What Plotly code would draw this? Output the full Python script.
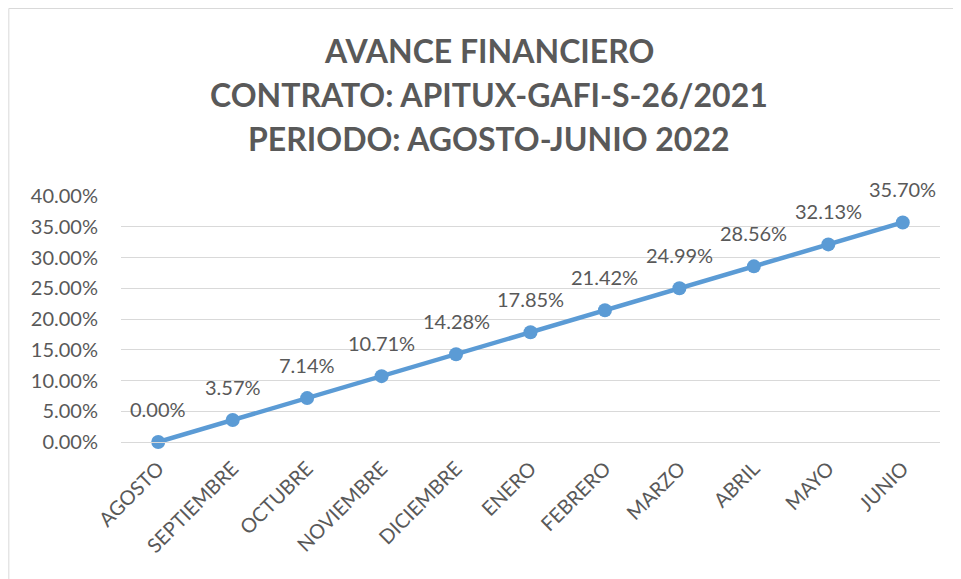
import plotly.graph_objects as go

months = ["AGOSTO", "SEPTIEMBRE", "OCTUBRE", "NOVIEMBRE", "DICIEMBRE", "ENERO",
          "FEBRERO", "MARZO", "ABRIL", "MAYO", "JUNIO"]
avance = [0.0, 0.0357, 0.0714, 0.1071, 0.1428, 0.1785, 0.2142, 0.2499, 0.2856, 0.3213, 0.3570]
y_ticks = [0.0, 0.05, 0.10, 0.15, 0.20, 0.25, 0.30, 0.35, 0.40]
title_lines = ["AVANCE FINANCIERO", "CONTRATO: APITUX-GAFI-S-26/2021", "PERIODO: AGOSTO-JUNIO 2022"]

# page body has an 8px margin; figure sized to fill the rest of the window
W, H = 953, 571
L, R, T, B = 112.75, 20.75, 188, 137
FONT = "Lato, 'Open Sans', sans-serif"
GREY = "#595959"
BLUE = "#5B9BD5"

pw = W - L - R
ph = H - T - B
def px(x): return (x - L) / pw
def py(y): return (H - B - y) / ph

fig = go.Figure()
fig.add_trace(go.Scatter(
    x=months, y=avance, mode="lines+markers",
    line=dict(color=BLUE, width=4.5),
    marker=dict(color=BLUE, size=14),
    cliponaxis=False, showlegend=False, hoverinfo="x+y",
))

annotations = []
for m, v in zip(months, avance):
    annotations.append(dict(
        x=m, y=v, xref="x", yref="y", text=f"{v*100:.2f}%", showarrow=False,
        xanchor="center", yanchor="middle", yshift=33,
        font=dict(family=FONT, size=20, color=GREY)))

title_y = [42, 86, 130.5]
for line, yy in zip(title_lines, title_y):
    annotations.append(dict(
        x=px(481), y=py(yy), xref="paper", yref="paper", text=f"<b>{line}</b>",
        showarrow=False, xanchor="center", yanchor="middle",
        font=dict(family=FONT, size=32, color=GREY)))

fig.add_shape(type="rect", xref="paper", yref="paper",
              x0=px(0.5), x1=px(W + 20), y0=py(H + 20), y1=py(0.5),
              line=dict(color="#D9D9D9", width=1), fillcolor="rgba(0,0,0,0)", layer="below")

fig.update_layout(
    width=W, height=H,
    margin=dict(l=L, r=R, t=T, b=B, autoexpand=False),
    paper_bgcolor="white", plot_bgcolor="white",
    font=dict(family=FONT, color=GREY),
    annotations=annotations,
    xaxis=dict(tickangle=-45, tickfont=dict(family=FONT, size=20, color=GREY),
               showgrid=False, showline=True, linecolor="#D9D9D9", linewidth=1,
               range=[-0.5, len(months) - 0.5], ticks="", ticklabelstandoff=6),
    yaxis=dict(range=[0, 0.40], tickvals=y_ticks,
               ticktext=[f"{v*100:.2f}%" for v in y_ticks],
               tickfont=dict(family=FONT, size=20, color=GREY),
               showgrid=True, gridcolor="#D9D9D9", gridwidth=1,
               zeroline=False, showline=False, ticks="", ticklabelstandoff=22),
)

fig.write_html("out.html")
